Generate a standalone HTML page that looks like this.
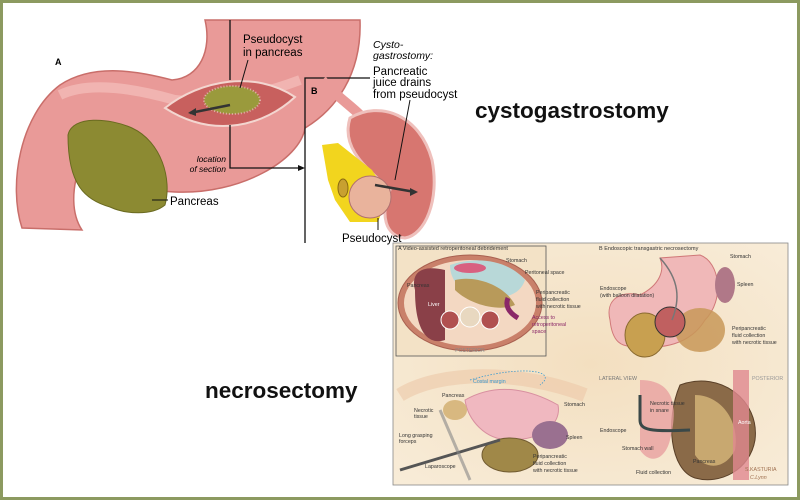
<!DOCTYPE html>
<html><head><meta charset="utf-8"><style>
html,body{margin:0;padding:0;background:#fff}
#w{position:relative;width:794px;height:494px;border:3px solid #8c9a60;background:#fff;overflow:hidden}
svg{position:absolute;left:-3px;top:-3px}
.t{position:absolute;font-family:"Liberation Sans",sans-serif;font-weight:bold;font-size:22.5px;color:#111}
</style></head><body><div id="w">
<svg width="800" height="500" viewBox="0 0 800 500" font-family="Liberation Sans, sans-serif">
<!-- A stomach -->
<path d="M22,228 C8,185 20,115 60,85 C95,62 140,72 172,80 C200,78 212,50 205,20 L360,20 C362,75 335,110 305,128 C300,160 240,195 175,192 C125,190 95,172 82,160 C70,190 72,215 82,230 Z" fill="#e99a98" stroke="#c96e6a" stroke-width="1.5"/>
<path d="M60,95 C90,80 140,90 175,100 C215,105 260,95 300,80" fill="none" stroke="#f6c6c2" stroke-width="10" opacity="0.6"/>
<path d="M68,135 C72,115 110,118 132,128 C162,142 172,180 165,205 C152,216 125,214 110,207 C85,200 68,185 68,135 Z" fill="#8c8a32" stroke="#6a6a20"/>
<path d="M165,108 C200,80 255,70 295,97 C265,125 215,140 165,108 Z" fill="#c8605e" stroke="#f3d6d0" stroke-width="2"/>
<ellipse cx="232" cy="100" rx="28" ry="14" fill="#9a9a3c" stroke="#e0b0a8" stroke-width="2" stroke-dasharray="1 2"/>
<path d="M230,105 L190,113" stroke="#333" stroke-width="2.5"/><path d="M188,113 l8,-5 l0,8z" fill="#333"/>
<path d="M230,20 V80 M230,125 V168 H298" stroke="#111" stroke-width="1.3" fill="none"/><path d="M305,168 l-7,-3 v6z" fill="#111"/>
<path d="M248,60 L240,88" stroke="#111"/>
<path d="M152,200 H168" stroke="#111"/>
<text x="55" y="65" font-size="9" font-weight="bold">A</text>
<text x="243" y="43" font-size="11.5">Pseudocyst</text>
<text x="243" y="56" font-size="11.5">in pancreas</text>
<text x="226" y="162" font-size="8.5" font-style="italic" text-anchor="end">location</text>
<text x="226" y="172" font-size="8.5" font-style="italic" text-anchor="end">of section</text>
<text x="170" y="205" font-size="11.5">Pancreas</text>
<!-- B -->
<path d="M305,243 V78 H370" stroke="#111" stroke-width="1.3" fill="none"/>
<text x="311" y="94" font-size="9" font-weight="bold">B</text>
<text x="373" y="48" font-size="10.5" font-style="italic">Cysto-</text>
<text x="373" y="59" font-size="10.5" font-style="italic">gastrostomy:</text>
<text x="373" y="75" font-size="11.5">Pancreatic</text>
<text x="373" y="86" font-size="11.5">juice drains</text>
<text x="373" y="98" font-size="11.5">from pseudocyst</text>
<path d="M322,80 C335,95 350,105 360,115" stroke="#e99a98" stroke-width="10" fill="none"/>
<path d="M350,118 C380,100 420,115 432,160 C440,200 425,235 405,238 C385,236 380,215 390,190 C370,170 340,150 350,118 Z" fill="#d77670" stroke="#efc0bc" stroke-width="3"/>
<path d="M322,145 L338,143 L372,170 L388,195 L378,222 L350,222 L335,200 L328,180 Z" fill="#f2d51e"/>
<ellipse cx="343" cy="188" rx="5" ry="9" fill="#c8a030" stroke="#8a6a10"/>
<circle cx="370" cy="197" r="21" fill="#e9b39c" stroke="#b07070"/>
<path d="M375,185 L415,192" stroke="#333" stroke-width="2.5"/><path d="M418,192 l-8,-4 v8z" fill="#333"/>
<path d="M410,100 L395,180" stroke="#111"/><path d="M378,218 V230" stroke="#111"/>
<text x="342" y="242" font-size="11.5">Pseudocyst</text>
<!-- bottom panel -->
<defs><radialGradient id="bg" cx="50%" cy="50%" r="70%"><stop offset="0" stop-color="#f3dfc0"/><stop offset="1" stop-color="#f8ecd8"/></radialGradient></defs>
<rect x="393" y="243" width="395" height="242" fill="url(#bg)" stroke="#888" stroke-width="0.8"/>
<rect x="396" y="246" width="150" height="110" fill="#f3e2c6" stroke="#555" stroke-width="0.8"/>
<ellipse cx="470" cy="303" rx="72" ry="48" fill="#c9806a" stroke="#a86050"/>
<ellipse cx="470" cy="303" rx="66" ry="43" fill="#f3d8c2"/>
<path d="M415,290 C410,270 425,265 445,270 L445,340 C430,345 415,335 415,290Z" fill="#8a4048"/>
<path d="M450,265 C480,255 510,262 525,280 C520,295 505,300 480,296 C460,292 450,280 450,265Z" fill="#b8d8d8"/>
<path d="M455,280 C475,275 505,285 515,305 C500,312 470,305 455,290Z" fill="#b89a5a"/>
<ellipse cx="470" cy="268" rx="16" ry="5" fill="#d86080"/>
<circle cx="450" cy="320" r="9" fill="#b05050" stroke="#fff"/><circle cx="490" cy="320" r="9" fill="#b05050" stroke="#fff"/>
<circle cx="470" cy="317" r="10" fill="#e8d8c0" stroke="#fff"/>
<path d="M518,318 C508,312 505,305 508,298" stroke="#8a2868" stroke-width="5" fill="none"/>
<text x="470" y="352" font-size="5" text-anchor="middle" fill="#888">POSTERIOR</text>
<!-- B top -->
<path d="M610,320 C605,300 620,290 640,295 C660,285 665,270 660,258 L700,255 C720,262 725,300 705,320 C690,345 660,350 640,345 C620,350 612,340 610,320Z" fill="#f0b8b8" stroke="#d07878"/>
<ellipse cx="645" cy="335" rx="20" ry="22" fill="#c8a050" stroke="#8a6a30"/>
<ellipse cx="700" cy="330" rx="25" ry="22" fill="#c89858" opacity="0.85"/>
<ellipse cx="725" cy="285" rx="10" ry="18" fill="#b07888"/>
<circle cx="670" cy="322" r="15" fill="#c06060" stroke="#333"/>
<path d="M660,258 C680,280 680,300 672,320" stroke="#777" stroke-width="1.5" fill="none"/>
<!-- bottom left scene -->
<path d="M400,395 C440,370 520,370 585,395" stroke="#ecc8a8" stroke-width="14" fill="none" opacity="0.6"/>
<path d="M465,400 C500,380 535,392 558,405 C562,425 540,440 510,440 C485,440 468,420 465,400Z" fill="#f0b8c0" stroke="#d890a0"/>
<ellipse cx="455" cy="410" rx="12" ry="10" fill="#d8b880"/>
<ellipse cx="510" cy="455" rx="28" ry="17" fill="#a08848" stroke="#705a30"/>
<ellipse cx="550" cy="435" rx="18" ry="14" fill="#9a7090"/>
<path d="M400,470 L500,440" stroke="#555" stroke-width="3"/><path d="M440,410 L470,480" stroke="#888" stroke-width="3" opacity="0.6"/>
<path d="M470,380 C520,365 560,370 540,385" stroke="#3a9ad0" stroke-width="0.8" stroke-dasharray="1.5 1.5" fill="none"/>
<!-- bottom right scene -->
<path d="M680,385 C720,370 760,400 755,440 C750,470 720,485 695,478 C670,470 665,420 680,385Z" fill="#8a6a48" stroke="#5a4028"/>
<path d="M695,395 C720,395 740,420 735,450 C725,470 705,470 695,455Z" fill="#c8a870"/>
<path d="M640,380 C670,380 680,400 670,440 C665,460 650,465 640,450Z" fill="#e8a0a0" opacity="0.8"/>
<rect x="733" y="370" width="16" height="110" fill="#e08890" opacity="0.8"/>
<path d="M640,395 V420 C640,430 650,432 690,430" stroke="#3a4848" stroke-width="3" fill="none"/>
<g font-size="5.3" fill="#333">
<text x="398" y="250" font-size="5.5">A  Video-assisted retroperitoneal debridement</text>
<text x="506" y="262">Stomach</text><text x="525" y="274">Peritoneal space</text>
<text x="407" y="287">Pancreas</text><text x="428" y="306" fill="#fff">Liver</text>
<text x="536" y="294">Peripancreatic</text><text x="536" y="301">fluid collection</text><text x="536" y="308">with necrotic tissue</text>
<text x="532" y="319" fill="#8a2868">Access to</text><text x="532" y="326" fill="#8a2868">retroperitoneal</text><text x="532" y="333" fill="#8a2868">space</text>
<text x="599" y="250" font-size="5.5">B  Endoscopic transgastric necrosectomy</text>
<text x="730" y="258">Stomach</text><text x="737" y="286">Spleen</text>
<text x="600" y="290">Endoscope</text><text x="600" y="297">(with balloon dilatation)</text>
<text x="732" y="330">Peripancreatic</text><text x="732" y="337">fluid collection</text><text x="732" y="344">with necrotic tissue</text>
<text x="599" y="380" fill="#777">LATERAL VIEW</text><text x="752" y="380" fill="#999">POSTERIOR</text>
<text x="650" y="405">Necrotic tissue</text><text x="650" y="412">in snare</text>
<text x="600" y="432">Endoscope</text><text x="622" y="450">Stomach wall</text><text x="636" y="474">Fluid collection</text>
<text x="693" y="463">Pancreas</text><text x="738" y="424" fill="#fff">Aorta</text>
<text x="745" y="471" fill="#a07050">S.KASTURIA</text><text x="750" y="479" fill="#a07050" font-style="italic">C.Lynn</text>
<text x="473" y="383" fill="#3a9ad0">Costal margin</text>
<text x="442" y="397">Pancreas</text><text x="414" y="412">Necrotic</text><text x="414" y="418">tissue</text>
<text x="564" y="406">Stomach</text><text x="566" y="439">Spleen</text>
<text x="399" y="437">Long grasping</text><text x="399" y="443">forceps</text><text x="425" y="468">Laparoscope</text>
<text x="533" y="458">Peripancreatic</text><text x="533" y="465">fluid collection</text><text x="533" y="472">with necrotic tissue</text>
</g>
</svg>
<div class="t" style="left:472px;top:95px">cystogastrostomy</div>
<div class="t" style="left:202px;top:375px">necrosectomy</div>
</div></body></html>
